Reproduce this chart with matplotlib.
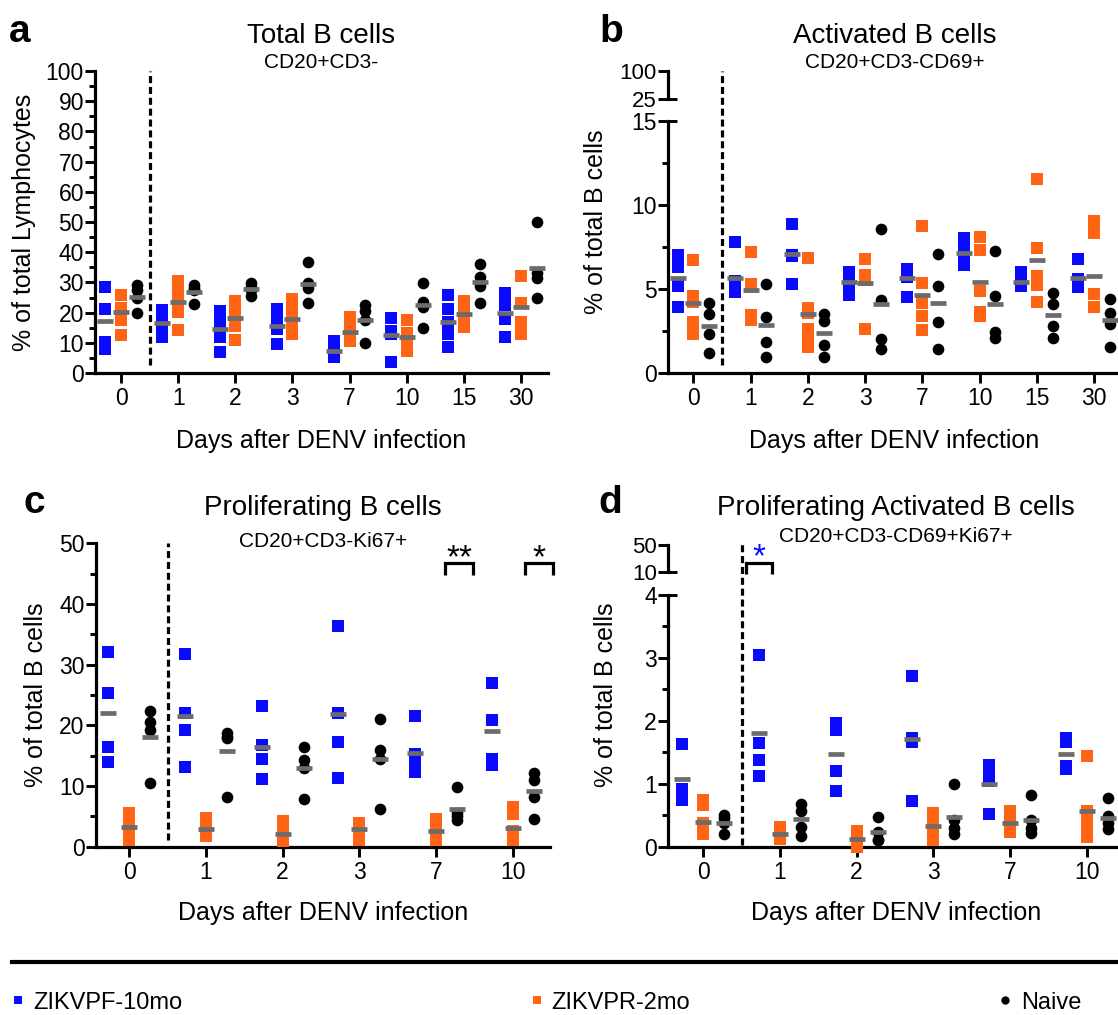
import matplotlib
matplotlib.use('Agg')
import matplotlib.pyplot as plt
from matplotlib.lines import Line2D
from matplotlib.ticker import MultipleLocator, FixedLocator
import numpy as np

plt.rcParams['font.family'] = ['Liberation Sans', 'DejaVu Sans']

# ---------------- data ----------------
days_ab = ['0', '1', '2', '3', '7', '10', '15', '30']
days_cd = ['0', '1', '2', '3', '7', '10']
groups = ['ZIKVPF-10mo', 'ZIKVPR-2mo', 'Naive']

# Panel a: Total B cells (% of total lymphocytes)
a_pf = [[28.5, 21.3, 10.3, 7.9], [21.0, 18.0, 16.0, 12.0], [20.5, 17.5, 14.5, 11.8, 7.1],
        [21.1, 17.5, 14.6, 9.6], [10.5, 7.0, 6.0, 5.3], [18.3, 14.0, 12.9, 3.8],
        [25.8, 21.1, 17.0, 13.0, 8.5], [26.6, 22.5, 17.9, 12.0]]
a_pf_mean = [17.1, 16.7, 14.5, 15.6, 7.3, 12.5, 16.8, 19.8]
a_pr = [[25.7, 21.6, 17.6, 12.5], [30.6, 26.5, 22.5, 20.1, 14.2], [23.8, 19.8, 15.4, 10.9],
        [24.4, 20.4, 16.4, 12.9], [18.6, 14.6, 11.0, 10.7], [17.4, 13.4, 9.4, 7.4],
        [24.0, 20.0, 17.0, 15.1], [32.1, 23.3, 16.9, 12.9]]
a_pr_mean = [20.3, 23.6, 18.3, 17.9, 13.5, 12.0, 19.4, 21.7]
a_nv = [[29.0, 27.5, 25.0, 20.0], [29.0, 28.0, 27.5, 23.0], [29.7, 28.5, 27.5, 25.5],
        [36.9, 29.9, 28.0, 23.3], [22.5, 20.6, 17.5, 10.0], [29.9, 23.6, 22.0, 15.0],
        [36.0, 31.7, 28.9, 23.1], [50.0, 33.0, 31.5, 25.0]]
a_nv_mean = [25.3, 26.9, 27.7, 29.5, 17.5, 22.5, 30.2, 34.7]

# Panel b: Activated B cells (% of total B cells)
b_pf = [[7.0, 6.3, 5.2, 3.9], [7.8, 5.5, 5.1, 4.8], [8.87, 7.05, 6.95, 5.3],
        [6.0, 5.6, 5.3, 4.65], [6.2, 5.7, 4.53], [8.05, 7.4, 6.9, 6.45],
        [6.0, 5.6, 5.15], [6.8, 5.57, 5.1]]
b_pf_mean = [5.63, 5.67, 7.06, 5.44, 5.63, 7.16, 5.44, 5.63]
b_pr = [[6.72, 4.58, 4.2, 3.05, 2.32], [7.2, 5.28, 5.1, 3.45, 3.18], [6.83, 3.85, 3.6, 2.6, 2.1, 1.57],
        [6.8, 5.81, 5.54, 2.64], [8.75, 5.36, 4.18, 3.42, 2.54], [8.1, 7.3, 4.9, 3.65, 3.4],
        [11.57, 7.44, 5.8, 5.26, 4.23], [9.05, 8.33, 4.68, 3.95]]
b_pr_mean = [4.19, 4.94, 3.49, 5.38, 4.66, 5.44, 6.73, 5.79]
b_nv = [[4.15, 3.5, 2.3, 1.2], [5.3, 3.35, 1.83, 0.93], [3.5, 3.1, 1.67, 0.97],
        [8.55, 4.35, 2.02, 1.41], [7.06, 5.2, 3.06, 1.43], [7.28, 4.58, 2.46, 2.06],
        [4.78, 4.09, 2.8, 2.06], [4.38, 3.55, 2.9, 1.57]]
b_nv_mean = [2.8, 2.88, 2.36, 4.1, 4.19, 4.1, 3.45, 3.15]

# Panel c: Proliferating B cells
c_pf = [[32.1, 25.3, 16.4, 14.0], [31.7, 22.1, 19.3, 13.1], [23.2, 16.8, 14.4, 11.2],
        [36.4, 22.0, 17.3, 11.4], [21.5, 15.2, 14.2, 12.3], [26.9, 20.9, 14.5, 13.5]]
c_pf_mean = [22.0, 21.5, 16.4, 21.8, 15.5, 19.0]
c_pr = [[5.6, 4.0, 2.5, 1.1], [4.7, 3.2, 2.2, 1.7], [4.2, 2.4, 1.1, 0.9],
        [3.9, 3.5, 2.9, 1.1], [4.5, 3.0, 2.0, 1.1], [6.6, 5.4, 2.6, 1.1]]
c_pr_mean = [3.2, 2.9, 2.1, 2.9, 2.6, 3.0]
c_nv = [[22.4, 20.6, 19.2, 10.5], [18.7, 18.0, 17.9, 8.2], [16.5, 14.3, 12.9, 7.8],
        [21.0, 15.9, 14.4, 6.2], [9.9, 5.5, 5.0, 4.4], [12.2, 11.0, 8.2, 4.5]]
c_nv_mean = [18.0, 15.7, 12.9, 14.5, 6.2, 9.1]

# Panel d: Proliferating activated B cells
d_pf = [[1.63, 0.91, 0.85, 0.74], [3.05, 1.65, 1.38, 1.13], [1.97, 1.85, 1.21, 0.89],
        [2.71, 1.73, 1.67, 0.72], [1.3, 1.15, 1.05, 0.52], [1.73, 1.66, 1.28, 1.23]]
d_pf_mean = [1.07, 1.8, 1.48, 1.71, 1.0, 1.48]
d_pr = [[0.74, 0.66, 0.37, 0.2], [0.32, 0.2, 0.15, 0.13], [0.25, 0.12, 0.05, 0.0],
        [0.53, 0.35, 0.2, 0.1], [0.56, 0.4, 0.24], [1.44, 0.57, 0.4, 0.25, 0.16]]
d_pr_mean = [0.39, 0.2, 0.12, 0.33, 0.38, 0.57]
d_nv = [[0.5, 0.45, 0.37, 0.2], [0.68, 0.56, 0.32, 0.17], [0.47, 0.24, 0.1, 0.1],
        [0.99, 0.42, 0.3, 0.2], [0.82, 0.42, 0.3, 0.21], [0.77, 0.48, 0.37, 0.28]]
d_nv_mean = [0.38, 0.44, 0.23, 0.47, 0.42, 0.45]

# ---------------- style ----------------
W, H = 1118, 1015
BLUE = '#0a0aff'
ORANGE = '#ff6414'
BLACK = '#000000'
GRAY = '#6b6b6b'
OFF = 0.275

fig = plt.figure(figsize=(W / 100, H / 100), dpi=100)


def px_box(x0, y0, x1, y1):
    return [x0 / W, 1 - y1 / H, (x1 - x0) / W, (y1 - y0) / H]


def draw_groups(ax, days, pf, pfm, pr, prm, nv, nvm):
    for i in range(len(days)):
        spec = [(-OFF, pf[i], pfm[i], BLUE, 's', 9.0),
                (0.0, pr[i], prm[i], ORANGE, 's', 9.0),
                (OFF, nv[i], nvm[i], BLACK, 'o', 8.4)]
        for off, vals, mean, color, marker, ms in spec:
            ax.plot(np.full(len(vals), i + off), vals, ls='none', marker=marker,
                    ms=ms, color=color, mew=0, clip_on=False, zorder=3)
            ax.plot([i + off], [mean], ls='none', marker='_', ms=11.5, mew=3.4,
                    color=GRAY, zorder=4, clip_on=False)


def style(ax, days, xlim):
    ax.set_xlim(*xlim)
    ax.set_xticks(range(len(days)))
    ax.set_xticklabels(days)
    for s in ['top', 'right']:
        ax.spines[s].set_visible(False)
    for s in ['left', 'bottom']:
        ax.spines[s].set_linewidth(2.3)
    ax.tick_params(axis='both', which='major', length=7, width=2.1,
                   labelsize=16.5, direction='out')
    ax.tick_params(axis='y', which='major', pad=1)
    ax.tick_params(axis='x', which='major', pad=3)
    ax.tick_params(axis='y', which='minor', length=4.5, width=2.1)
    ax.tick_params(axis='x', which='minor', bottom=False)


def top_segment(ax_top, xlim, ylim, ticks):
    ax_top.set_xlim(*xlim)
    ax_top.set_ylim(*ylim)
    for s in ['top', 'right', 'bottom']:
        ax_top.spines[s].set_visible(False)
    ax_top.spines['left'].set_linewidth(2.3)
    ax_top.set_xticks([])
    ax_top.set_yticks(ticks)
    ax_top.tick_params(axis='y', length=7, width=2.1, labelsize=16, pad=1)
    ax_top.patch.set_alpha(0)


def stub(ax, y, frac):
    ax.plot([0, frac], [y, y], transform=ax.get_yaxis_transform(), color='k',
            lw=2.1, clip_on=False, solid_capstyle='butt')


def dashed(ax, ymin, ymax):
    ax.axvline(0.5, ymin=ymin, ymax=ymax, color='k', lw=2.3,
               ls=(0, (2.2, 1.2)), clip_on=False, zorder=1)


def bracket(ax, center, half, y0, y1, text, ty, color):
    ax.plot([center - half, center - half, center + half, center + half],
            [y0, y1, y1, y0], color='k', lw=2.3, clip_on=False,
            solid_joinstyle='miter', solid_capstyle='butt')
    ax.text(center, ty, text, ha='center', va='baseline', fontsize=24,
            color=color, clip_on=False)


# ---- panel a ----
ax_a = fig.add_axes(px_box(95, 71, 548, 373))
draw_groups(ax_a, days_ab, a_pf, a_pf_mean, a_pr, a_pr_mean, a_nv, a_nv_mean)
style(ax_a, days_ab, (-0.455, 7.47))
ax_a.set_ylim(0, 100)
ax_a.yaxis.set_major_locator(MultipleLocator(10))
ax_a.yaxis.set_minor_locator(MultipleLocator(5))
dashed(ax_a, 0.026, 1.0)

# ---- panel b ----
ax_b = fig.add_axes(px_box(668, 121, 1121, 373))
draw_groups(ax_b, days_ab, b_pf, b_pf_mean, b_pr, b_pr_mean, b_nv, b_nv_mean)
style(ax_b, days_ab, (-0.443, 7.47))
ax_b.set_ylim(0, 15)
ax_b.yaxis.set_major_locator(FixedLocator([0, 5, 10, 15]))
ax_b.yaxis.set_minor_locator(FixedLocator([2.5, 7.5, 12.5]))
stub(ax_b, 15, 0.019)
dashed(ax_b, 0.032, 1.2)
ax_bt = fig.add_axes(px_box(668, 71, 1121, 99))
top_segment(ax_bt, (-0.443, 7.47), (25, 100), [25, 100])
stub(ax_bt, 25, 0.019)

# ---- panel c ----
ax_c = fig.add_axes(px_box(95.7, 543.3, 550, 846.7))
draw_groups(ax_c, days_cd, c_pf, c_pf_mean, c_pr, c_pr_mean, c_nv, c_nv_mean)
style(ax_c, days_cd, (-0.438, 5.486))
ax_c.set_ylim(0, 50)
ax_c.yaxis.set_major_locator(MultipleLocator(10))
ax_c.yaxis.set_minor_locator(MultipleLocator(5))
dashed(ax_c, 0.022, 1.0)
bracket(ax_c, 4.3, 0.18, 44.7, 46.7, '**', 46.0, 'k')
bracket(ax_c, 5.34, 0.18, 44.7, 46.7, '*', 46.0, 'k')

# ---- panel d ----
ax_d = fig.add_axes(px_box(668, 595, 1124, 846.7))
draw_groups(ax_d, days_cd, d_pf, d_pf_mean, d_pr, d_pr_mean, d_nv, d_nv_mean)
style(ax_d, days_cd, (-0.46, 5.486))
ax_d.set_ylim(0, 4)
ax_d.yaxis.set_major_locator(MultipleLocator(1))
ax_d.yaxis.set_minor_locator(MultipleLocator(0.5))
stub(ax_d, 4, 0.019)
dashed(ax_d, 0.007, 1.207)
bracket(ax_d, 0.726, 0.174, 4.33, 4.514, '*', 4.45, BLUE)
ax_dt = fig.add_axes(px_box(668, 545, 1124, 571.7))
top_segment(ax_dt, (-0.46, 5.486), (10, 50), [10, 50])
stub(ax_dt, 10, 0.019)

# ---------------- text ----------------
def ftext(x, y, s, **kw):
    fig.text(x / W, 1 - y / H, s, **kw)

panels = [
    ('a', 20, 42, 'Total B cells', 'CD20+CD3-', 321.5, 43, 68, 448, 24, 222, '% of total Lymphocytes'),
    ('b', 611, 42, 'Activated B cells', 'CD20+CD3-CD69+', 894.5, 43, 68, 448, 596, 222, '% of total B cells'),
    ('c', 34, 513, 'Proliferating B cells', 'CD20+CD3-Ki67+', 323, 515, 547, 920, 36, 695, '% of total B cells'),
    ('d', 610, 513, 'Proliferating Activated B cells', 'CD20+CD3-CD69+Ki67+', 896, 515, 542, 920, 606, 695, '% of total B cells'),
]
for (letter, lx, ly, title, sub, cx, ty, sy, xy, ylx, yly, ylab) in panels:
    ftext(lx, ly, letter, fontsize=28, fontweight='bold', ha='center', va='baseline')
    ftext(cx, ty, title, fontsize=20, ha='center', va='baseline')
    ftext(cx, sy, sub, fontsize=15, ha='center', va='baseline')
    ftext(cx, xy, 'Days after DENV infection', fontsize=18, ha='center', va='baseline')
    ftext(ylx, yly, ylab, fontsize=18, rotation=90, ha='center', va='center')

# ---------------- legend ----------------
fig.add_artist(Line2D([12 / W, 1.0], [1 - 962 / H] * 2, color='k', lw=3,
                      transform=fig.transFigure))
leg_items = [(18, 33, groups[0], BLUE, 's'), (537, 551, groups[1], ORANGE, 's'),
             (1005, 1021, groups[2], BLACK, 'o')]
for mx, tx, lab, col, mk in leg_items:
    fig.add_artist(Line2D([mx / W], [1 - 1000 / H], marker=mk, ms=6, color=col,
                          mew=0, ls='none', transform=fig.transFigure))
    ftext(tx, 1009, lab, fontsize=17, ha='left', va='baseline')

fig.savefig('out.png', dpi=100)
